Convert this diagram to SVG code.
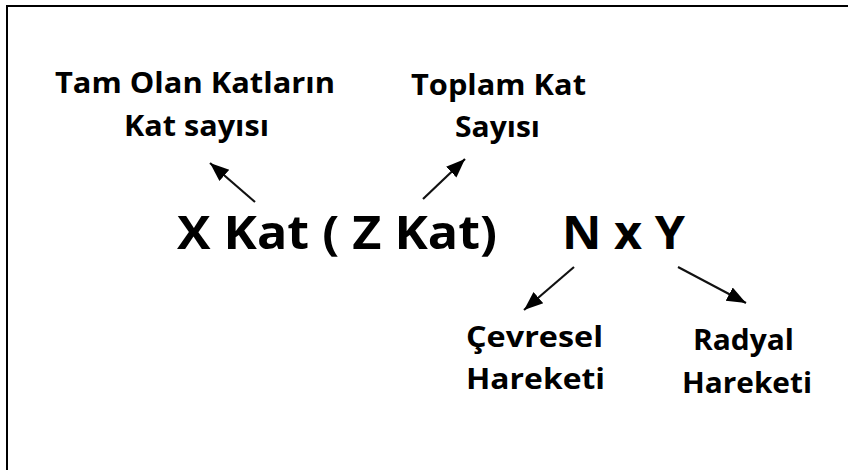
<svg xmlns="http://www.w3.org/2000/svg" width="848" height="470" viewBox="0 0 848 470">
<style>
.t{font-family:"Open Sans","Liberation Sans",sans-serif;font-weight:bold;fill:#000}
.s{font-size:29px}
.b{font-size:47px}
.c{stroke:#111;stroke-width:2.2;fill:none;marker-end:url(#ah)}
</style>
<defs>
<marker id="ah" markerUnits="userSpaceOnUse" markerWidth="22" markerHeight="22" viewBox="0 0 22 22" refX="19" refY="11" orient="auto">
<path d="M0,3.5 L19,11 L0,18.5 Z" fill="#000"/>
</marker>
</defs>
<rect width="848" height="470" fill="#fff"/>
<path d="M7,470 V6 H848" stroke="#000" stroke-width="2" fill="none"/>
<g id="main">
<text class="t b" x="177" y="249" textLength="320" lengthAdjust="spacingAndGlyphs">X Kat ( Z Kat)</text>
<text class="t b" x="562" y="249" textLength="123" lengthAdjust="spacingAndGlyphs">N x Y</text>
</g>
<g id="tam-olan">
<text class="t s" x="55" y="93" textLength="280" lengthAdjust="spacingAndGlyphs">Tam Olan Katların</text>
<text class="t s" x="124" y="136" textLength="145" lengthAdjust="spacingAndGlyphs">Kat sayısı</text>
</g>
<g id="toplam">
<text class="t s" x="411" y="95" textLength="175" lengthAdjust="spacingAndGlyphs">Toplam Kat</text>
<text class="t s" x="455" y="137" textLength="85" lengthAdjust="spacingAndGlyphs">Sayısı</text>
</g>
<g id="cevresel">
<text class="t s" x="466" y="347" textLength="137" lengthAdjust="spacingAndGlyphs">Çevresel</text>
<text class="t s" x="466" y="389" textLength="139" lengthAdjust="spacingAndGlyphs">Hareketi</text>
</g>
<g id="radyal">
<text class="t s" x="693" y="350" textLength="101" lengthAdjust="spacingAndGlyphs">Radyal</text>
<text class="t s" x="682" y="393" textLength="130" lengthAdjust="spacingAndGlyphs">Hareketi</text>
</g>
<g id="connectors">
<line class="c" x1="255" y1="202" x2="210" y2="163"/>
<line class="c" x1="423" y1="199" x2="465" y2="159"/>
<line class="c" x1="574" y1="267" x2="524" y2="310"/>
<line class="c" x1="678" y1="267" x2="746" y2="303"/>
</g>
</svg>
